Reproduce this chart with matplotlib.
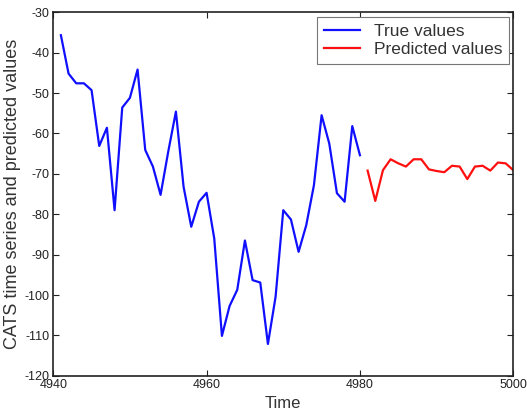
import numpy as np
import matplotlib
matplotlib.use('Agg')
import matplotlib.pyplot as plt

plt.rcParams['font.family'] = ['Liberation Sans', 'DejaVu Sans']
plt.rcParams['axes.unicode_minus'] = False

# true series (blue)
true_time = list(range(4941, 4981))
true_vals = [-35.7, -45.2, -47.6, -47.6, -49.3, -63.1, -58.6, -79.0, -53.6, -51.2,
             -44.2, -64.1, -68.2, -75.2, -64.5, -54.6, -73.2, -83.1, -76.9, -74.7,
             -86.0, -110.1, -102.7, -98.7, -86.5, -96.3, -96.9, -112.1, -100.4, -79.0,
             -81.3, -89.3, -82.7, -72.8, -55.5, -62.5, -74.8, -76.9, -58.2, -65.4]

# predicted series (red)
pred_time = list(range(4981, 5001))
pred_vals = [-69.2, -76.7, -69.1, -66.4, -67.4, -68.2, -66.4, -66.4, -68.9, -69.3,
             -69.6, -68.0, -68.2, -71.3, -68.2, -68.0, -69.2, -67.2, -67.4, -69.1]

x_ticks = [4940, 4960, 4980, 5000]
y_ticks = list(range(-120, -29, 10))

fig = plt.figure(figsize=(5.27, 4.2), dpi=100)
ax = fig.add_axes([0.101, 0.105, 0.873, 0.866])

ax.plot(true_time, true_vals, color='#1010ff', lw=1.6, label='True values')
ax.plot(pred_time, pred_vals, color='#ff1010', lw=1.6, label='Predicted values')

ax.set_xlim(4940, 5000)
ax.set_ylim(-120, -30)
ax.set_xticks(x_ticks)
ax.set_yticks(y_ticks)
ax.tick_params(direction='in', top=True, right=True, labelsize=9, length=4,
               pad=2.5, colors='#222222')
for s in ax.spines.values():
    s.set_linewidth(1.2)
    s.set_color('#222222')

ax.set_xlabel('Time', fontsize=12, labelpad=3, color='#333333')
ax.set_ylabel('CATS time series and predicted values', fontsize=13,
              labelpad=2.5, color='#333333')

leg = ax.legend(loc='upper right', fontsize=12.5, fancybox=False, framealpha=1,
                edgecolor='#777777', borderaxespad=0.25, handlelength=2.1,
                handletextpad=0.75, labelspacing=0.2, borderpad=0.4)
leg.get_frame().set_linewidth(0.8)
for t in leg.get_texts():
    t.set_color('#333333')

fig.savefig('out.png', dpi=100)
